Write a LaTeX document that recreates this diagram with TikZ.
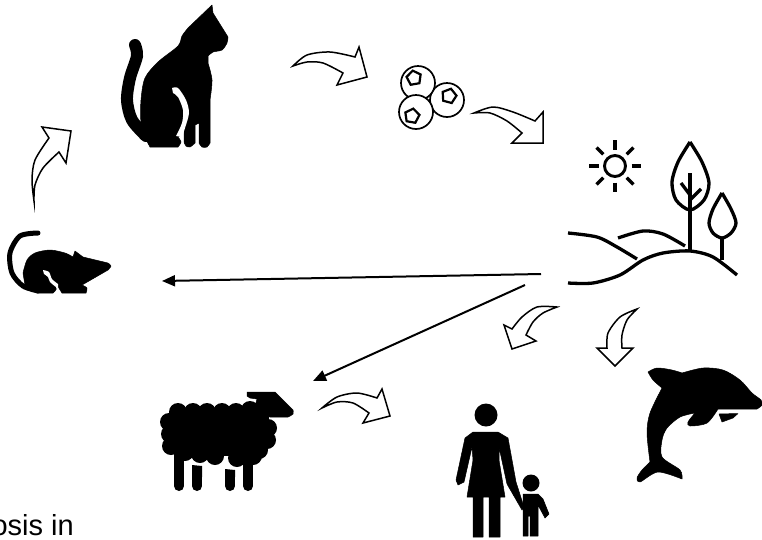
\documentclass[tikz,border=0pt]{standalone}
\usepackage{fontspec}
\setmainfont{Liberation Sans}
\usetikzlibrary{arrows.meta,shapes.geometric}
\tikzset{
  hollow/.style={draw=black,fill=white,line width=1.5pt,miter limit=20},
  solid/.style={fill=black,draw=black,line width=0.5pt,line join=round},
  thinline/.style={line width=3.3pt,line cap=butt,line join=round},
  link/.style={line width=2pt,-{Triangle[length=13pt,width=11pt]}},
  berry/.style={circle,draw=black,fill=white,line width=1.7pt,minimum size=34pt,inner sep=0pt},
  seed/.style={regular polygon,regular polygon sides=5,draw=black,line width=2.2pt,minimum size=15pt,inner sep=0pt},
  wool/.style={circle,fill=black,minimum size=18pt,inner sep=0pt},
}
\begin{document}
\begin{tikzpicture}[x=1pt,y=-1pt]
    \clip (0,0) rectangle (762,539);
    \fill[white] (0,0) rectangle (762,539);

    % cat
    \draw[line width=12pt,line cap=round] plot[smooth] coordinates {(135,45) (137,56) (130,78) (127,100) (132,120) (146,136)};
    \fill[solid] (212,5) -- (213,13) -- plot[smooth] coordinates {(228,37) (227,43) (222,50) (213,52) (208,56)}
      -- plot[smooth] coordinates {(208,63) (212,80) (210,100)} -- (210,143)
      -- plot[smooth] coordinates {(210,143) (207,147) (202,147) (199,143)} -- (199,123) -- (195,125) -- (195,143)
      -- plot[smooth] coordinates {(195,143) (190,147) (186,146) (184,142)} -- (184,125) -- (181,135)
      -- plot[smooth] coordinates {(178,137) (181,142) (178,147)} -- (152,147)
      -- plot[smooth] coordinates {(150,147) (145,137) (141,123) (141,100) (145,78) (158,62) (178,46) (182,36) (188,28)} -- cycle;
    \fill[white] plot[smooth] coordinates {(172,88) (178,88) (186,100) (189,113) (185,128) (182,137)}
      -- plot[smooth] coordinates {(176,136) (182,123) (183,110) (178,97) (173,93)} -- cycle;

    % berries
    \node[berry] (berryB) at (447,100) {};
    \node[berry] (berryA) at (418,83) {};
    \node[berry] (berryC) at (416,112) {};
    \node[seed,rotate=10] (seedA) at (414,78) {};
    \node[seed,rotate=-15] (seedB) at (449,96) {};
    \node[seed,rotate=-10] (seedC) at (412,116) {};

    % sun
    \draw[line width=2.9pt] (615,166) circle (10.5);
    \foreach \a in {0,45,...,315}
      \draw[line width=3.3pt] (615,166) ++(\a:16.5) -- ++(\a:9.5);

    % trees and hills
    \draw[thinline] plot[smooth] coordinates {(690,142) (678,162) (672,182) (676,200) (690,210) (704,200) (709,183) (702,162) (690,142)};
    \draw[thinline] (690,173) -- (690,252);
    \draw[thinline] (681,183) -- (690,195);
    \draw[thinline] (701,189) -- (690,200);
    \draw[thinline] plot[smooth] coordinates {(722,193) (713,209) (709,223) (713,233) (722,238) (731,233) (736,223) (731,209) (722,193)};
    \draw[thinline] (722,238) -- (722,260);
    \draw[thinline] plot[smooth] coordinates {(568,283) (593,283) (620,275) (643,260) (663,253) (690,251) (713,257) (737,275)};
    \draw[thinline] plot[smooth] coordinates {(568,233) (597,237) (617,247) (637,259)};
    \draw[thinline] plot[smooth] coordinates {(618,238) (643,231) (663,234) (685,246)};

    % mouse
    \draw[line width=5pt,line cap=round] plot[smooth] coordinates {(38,233) (20,236) (10,253) (12,273) (23,286) (38,291)};
    \fill[solid] plot[smooth] coordinates {(23,273) (27,260) (35,253) (50,250) (65,253) (73,257)}
      -- (75,251) -- (83,257) -- plot[smooth] coordinates {(108,263) (111,266) (108,270)}
      -- (82,285) -- plot[smooth] coordinates {(82,285) (87,288) (86,293)}
      -- (62,293) -- (57,285) -- plot[smooth] coordinates {(57,288) (55,291) (53,293)}
      -- (37,293) -- (25,285) -- cycle;
    \fill[white] plot[smooth] coordinates {(43,270) (49,272) (52,279) (58,284)} -- (58,293) -- (56,287)
      -- plot[smooth] coordinates {(56,287) (50,282) (48,277) (44,274)} -- cycle;

    % sheep
    \foreach \x/\y [count=\i] in {178/412,193/412,207/412,222/412,236/412,250/410,169/422,170/434,171/446,185/452,200/454,215/456,237/458,253/456,259/450,267/440,268/428,260/418}
      \node[wool] (wool\i) at (\x,\y) {};
    \fill (175,412) rectangle (263,450);
    \fill (190,450) rectangle (250,456);
    \draw[line width=10pt,line cap=round] (179,450) -- (179,486);
    \draw[line width=10pt,line cap=round] (248,455) -- (248,486);
    \draw[line width=10pt,line cap=round] (197,476) -- (197,486);
    \draw[line width=10pt,line cap=round] (230,476) -- (230,486);
    \fill (192,465) -- (202,466) -- (202,477) -- (192,477) -- cycle;
    \fill (225,469) -- (235,470) -- (235,477) -- (225,477) -- cycle;
    \fill[solid] (247,392) -- (275,392) -- (293,410)
      -- plot[smooth] coordinates {(293,410) (293,414) (288,417)} -- (270,417) -- (255,412)
      -- (250,403) -- (256,403) -- (257,399) -- (250,398) -- (247,396) -- cycle;

    % mother and child
    \node[circle,fill=black,minimum size=23pt,inner sep=0pt] (motherHead) at (486,415) {};
    \fill[solid] (465,438) -- (473,432) -- (498,432) -- (508,438) -- (516,482) -- (524,507) -- (522,510)
      -- (507,484) -- (499,447) -- (499,460) -- (505,497) -- (500,497) -- (500,537) -- (489,537) -- (489,497)
      -- (483,497) -- (483,537) -- (473,537) -- (473,497) -- (467,497) -- (473,460) -- (472,447)
      -- (464,482) -- (458,485) -- (456,480) -- cycle;
    \node[circle,fill=black,minimum size=17pt,inner sep=0pt] (childHead) at (531,483) {};
    \fill[solid] (523,494) -- (538,494) -- (543,499) -- (549,514) -- (545,518) -- (538,505) -- (538,536)
      -- (530,536) -- (530,516) -- (528,516) -- (528,536) -- (523,536) -- cycle;

    % dolphin
    \fill[solid] plot[smooth] coordinates {(648,372) (657,368) (672,370) (682,373)}
      -- plot[smooth] coordinates {(682,373) (703,368) (723,370) (740,380) (752,393) (761,400) (762,405) (757,409)}
      -- (718,409) -- plot[smooth] coordinates {(718,409) (707,423) (690,426) (688,422) (695,413)}
      -- plot[smooth] coordinates {(695,413) (680,417) (667,428) (662,440) (662,457) (680,470) (682,479)}
      -- plot[smooth] coordinates {(682,479) (658,472) (640,482) (637,478) (642,470) (650,462)}
      -- plot[smooth] coordinates {(650,462) (647,433) (650,413) (662,388)}
      -- plot[smooth] coordinates {(662,388) (653,380) (648,372)} -- cycle;
    \fill[solid] (719,414) -- (738,413.5) -- (733,418) -- (722,422) -- cycle;

    % bent arrows
    \draw[hollow] plot[smooth] coordinates {(293,66) (307,55) (330,52) (355,57)} -- (359,47) -- (367,77) -- (337,85) -- (343,73)
      -- plot[smooth] coordinates {(343,73) (323,63) (307,62) (293,66)} -- cycle;
    \draw[hollow] plot[smooth] coordinates {(474,113) (493,107) (513,112) (535,121)} -- (543,112) -- (543,143) -- (512,143) -- (522,133)
      -- plot[smooth] coordinates {(522,133) (507,121) (490,113) (474,113)} -- cycle;
    \draw[hollow] plot[smooth] coordinates {(34,201) (32,180) (35,160) (49,138)} -- (42,127) -- (71,131) -- (66,163) -- (59,152)
      -- plot[smooth] coordinates {(59,152) (43,168) (35,185) (34,201)} -- cycle;
    \draw[hollow] plot[smooth] coordinates {(322,408) (337,397) (357,393) (377,398)} -- (382,389) -- (390,416) -- (363,423) -- (369,413)
      -- plot[smooth] coordinates {(369,413) (353,403) (337,402) (322,408)} -- cycle;
    \draw[hollow] plot[smooth] coordinates {(557,307) (537,307) (522,317) (512,329)} -- (504,325) -- (512,349) -- (536,341) -- (526,335)
      -- plot[smooth] coordinates {(526,335) (533,322) (543,313) (557,307)} -- cycle;
    \draw[hollow] plot[smooth] coordinates {(637,309) (620,317) (608,333) (607,348)} -- (597,348) -- (615,366) -- (633,348) -- (622,348)
      -- plot[smooth] coordinates {(622,348) (622,335) (627,320) (637,309)} -- cycle;

    % straight arrows
    \coordinate (hillsA) at (541,274);
    \coordinate (hillsB) at (525,285);
    \coordinate (mouseEnd) at (162,281);
    \coordinate (sheepEnd) at (313,381);
    \draw[link] (hillsA) -- (mouseEnd);
    \draw[link] (hillsB) -- (sheepEnd);

    \node[font=\fontsize{29}{32}\selectfont,anchor=base east,inner sep=0pt] (caption) at (74,535) {osis in};
  \end{tikzpicture}
\end{document}
